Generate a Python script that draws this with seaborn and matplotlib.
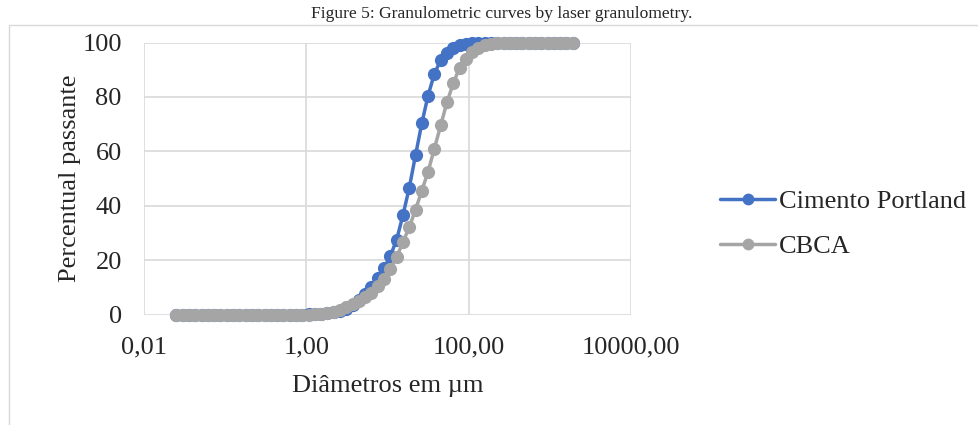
import matplotlib
matplotlib.use("Agg")
import matplotlib.pyplot as plt
import matplotlib.patches as mpatches
import matplotlib.ticker as mticker
import seaborn as sns
import pandas as pd

diametros = [0.0251, 0.0300, 0.0359, 0.0429, 0.0513, 0.0613, 0.0733, 0.0876, 0.1047, 0.1252,
             0.1496, 0.1789, 0.2138, 0.2556, 0.3055, 0.3652, 0.4365, 0.5218, 0.6237, 0.7455,
             0.8913, 1.065, 1.274, 1.522, 1.820, 2.175, 2.600, 3.108, 3.715, 4.441,
             5.309, 6.346, 7.586, 9.068, 10.84, 12.96, 15.49, 18.52, 22.13, 26.46,
             31.62, 37.80, 45.19, 54.02, 64.57, 77.18, 92.26, 110.3, 131.8, 157.6,
             188.4, 225.2, 269.2, 321.8, 384.6, 459.8, 549.5, 656.9, 785.2, 938.6,
             1122, 1341, 1603, 1916]

cimento = [0, 0, 0, 0, 0, 0, 0, 0, 0, 0,
           0, 0, 0, 0, 0, 0, 0, 0, 0, 0,
           0, 0.05, 0.15, 0.3, 0.5, 0.9, 1.4, 2.2, 3.5, 5.2,
           7.5, 10.2, 13.5, 17.0, 21.5, 27.5, 36.5, 46.5, 58.5, 70.3,
           80.5, 88.5, 93.5, 96.3, 98.0, 99.0, 99.5, 99.8, 100, 100,
           100, 100, 100, 100, 100, 100, 100, 100, 100, 100,
           100, 100, 100, 100]

cbca = [0, 0, 0, 0, 0, 0, 0, 0, 0, 0,
        0, 0, 0, 0, 0, 0, 0, 0, 0, 0,
        0, 0, 0.1, 0.25, 0.5, 1.0, 1.7, 2.6, 3.7, 4.9,
        6.3, 8.0, 10.3, 13.2, 16.8, 21.1, 26.6, 32.1, 38.5, 45.5,
        52.5, 61.0, 69.5, 78.0, 85.0, 90.7, 94.0, 96.5, 98.0, 99.0,
        99.5, 99.8, 100, 100, 100, 100, 100, 100, 100, 100,
        100, 100, 100, 100]

series_names = ["Cimento Portland", "CBCA"]
series_colors = ["#4472C4", "#A5A5A5"]
x_ticks = [0.01, 1, 100, 10000]
x_tick_labels = ["0,01", "1,00", "100,00", "10000,00"]
y_ticks = [0, 20, 40, 60, 80, 100]

df = pd.concat([
    pd.DataFrame({"d": diametros, "p": cimento, "s": series_names[0]}),
    pd.DataFrame({"d": diametros, "p": cbca, "s": series_names[1]}),
], ignore_index=True)

sns.set_style("white")
plt.rcParams["font.family"] = ["Liberation Serif", "DejaVu Serif"]

W, H = 979, 425
fig = plt.figure(figsize=(W / 100, H / 100), dpi=100)
ax = fig.add_axes([144 / W, 1 - 314.5 / H, (631 - 144) / W, (314.5 - 42.5) / H])

MS = 9.5
LW = 2.5
sns.lineplot(data=df, x="d", y="p", hue="s", palette=series_colors,
             hue_order=series_names, marker="o", markersize=MS,
             markeredgewidth=0, linewidth=LW, ax=ax, legend=False,
             sort=False, estimator=None, clip_on=False, zorder=3)

ax.set_xscale("log")
ax.set_xlim(0.01, 10000)
ax.set_ylim(0, 100)
ax.xaxis.set_major_locator(mticker.FixedLocator(x_ticks))
ax.xaxis.set_minor_locator(mticker.NullLocator())
ax.set_xticks(x_ticks)
ax.set_xticklabels(x_tick_labels)
ax.set_yticks(y_ticks)
ax.grid(True, color="#d9d9d9", linewidth=1.2)
ax.set_axisbelow(True)
for sp in ax.spines.values():
    sp.set_visible(False)
ax.tick_params(axis="both", length=0, labelsize=19)
ax.tick_params(axis="y", pad=16)
ax.tick_params(axis="x", pad=16)
ax.set_xlabel("Diâmetros em µm", fontsize=19, labelpad=12)
ax.set_ylabel("Percentual passante", fontsize=19)
ax.yaxis.set_label_coords(-0.13, 0.5)

handles = [plt.Line2D([], [], color=c, marker="o", markersize=MS - 1, linewidth=LW,
                      markeredgewidth=0) for c in series_colors]
fig.legend(handles, series_names, loc="upper left",
           bbox_to_anchor=(720 / W, 1 - 190 / H), frameon=False, borderpad=0,
           borderaxespad=0, fontsize=19, handlelength=2.1, handletextpad=0.15,
           labelspacing=0.8)

fig.text(502 / W, 1 - 18 / H, "Figure 5: Granulometric curves by laser granulometry.",
         ha="center", va="baseline", fontsize=12.6)

border = mpatches.Rectangle((9 / W, -0.1), 2, 1 - 25 / H + 0.1, transform=fig.transFigure,
                            fill=False, edgecolor="#d9d9d9", linewidth=1.0, zorder=0)
fig.patches.append(border)

fig.savefig("out.png", dpi=100)
